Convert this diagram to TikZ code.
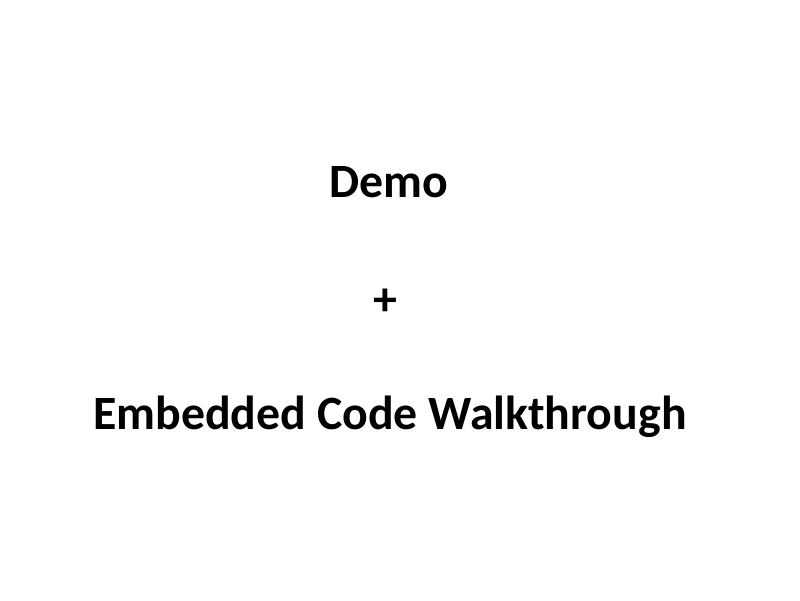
\documentclass[tikz,border=0pt]{standalone}
\usepackage{fontspec}
\setmainfont{Carlito}
\usepackage{tikz}
\usetikzlibrary{positioning}

\begin{document}
\begin{tikzpicture}
      \tikzstyle{slide_text}=[draw=none, fill=none, anchor=base, font=\fontsize{34}{40}\selectfont\bfseries]

      \useasboundingbox [fill=white] (0,0) rectangle (20,15);

      \node (demo) at (9.73,10.05) [slide_text] {Demo};
      \node (plus) at (9.63,7.12) [slide_text] {+};
      \node (walkthrough) at (9.75,4.27) [slide_text] {Embedded Code Walkthrough};
    \end{tikzpicture}
\end{document}
